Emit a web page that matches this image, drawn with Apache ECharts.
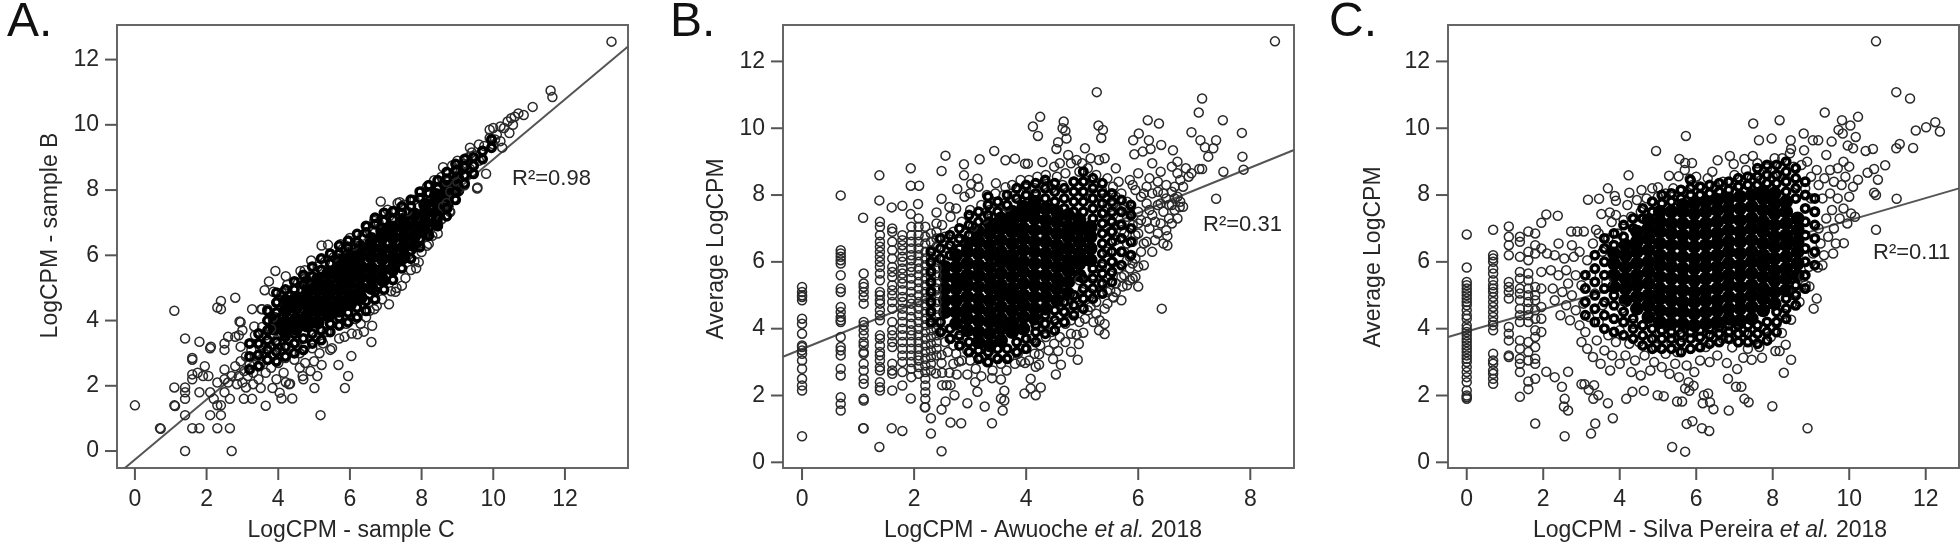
<!DOCTYPE html>
<html>
<head>
<meta charset="utf-8">
<script src="https://cdn.jsdelivr.net/npm/echarts@6/dist/echarts.min.js"></script>
<style>html,body{margin:0;padding:0;background:#fff}#main{width:1960px;height:545px}</style>
</head>
<body>
<div id="main"></div>
<script>
var ticksA = [0, 2, 4, 6, 8, 10, 12];
var ticksB = [0, 2, 4, 6, 8];
var ticksY = [0, 2, 4, 6, 8, 10, 12];

var fitA = [[-0.28, -0.52], [13.76, 12.4]];
var fitB = [[-0.34, 3.16], [8.78, 9.35]];
var fitC = [[-0.49, 3.75], [12.87, 8.2]];

// panel A, single genes
var ringsA = [[13.3,12.55],[11.6,11.05],[11.65,10.85],[11.1,10.55],[10.85,10.3],[10.7,10.35],[10.6,10.25],[10.5,10.2],[10.4,10.1],[10.55,10],[10.3,9.9],[10.2,9.95],[10,9.9],[10.1,9.7],[10.45,9.75],[10.2,9.5],[9.9,9.6],[10,9.4],[10.25,9.3],[9.6,9.4],[9.35,9.3],[9.4,9.15],[9.75,9.35],[9.8,8.5],[9.55,8.05],[9.9,9.85],[10.05,9.55],[9.7,9.2],[9.5,9.05],[9.6,8.9],[9.3,9],[9.2,8.8],[9.45,8.75],[9.1,8.6],[9,8.9],[9.25,8.45],[9.35,8.65],[8.9,8.45],[8.85,8.75],[8.6,8.7],[8.7,8.25],[9,8.25],[8.8,7.95],[8.55,8.4],[8.8,7.33],[8.78,7.35],
[0,1.4],[0.7,0.7],[0.72,0.68],[1.1,1.4],[1.12,1.38],[1.1,1.95],[1.1,4.3],[1.4,0],[1.4,1.1],[1.4,1.6],[1.4,1.8],[1.4,1.95],[1.4,3.45],[1.6,0.7],[1.8,0.7],[1.8,1.8],[1.8,3.35],[1.6,2.2],[1.6,2.35],[1.6,2.8],[1.6,2.85],[1.75,2.4],[1.95,2.6],[1.9,2.3],[2.05,2.3],[2.1,1.8],[2.1,3.15],[2.12,3.2],[2.1,1.1],[2.2,1.6],[2.3,2.1],[2.3,1.4],[2.3,0.7],[2.4,1.4],[2.4,1.1],[2.3,4.4],[2.4,4.35],[2.4,4.6],[2.5,1.8],[2.5,3.1],[2.5,3.3],[2.5,2.5],[2.5,2.2],[2.6,2.1],[2.6,3.5],[2.65,1.6],[2.65,0.7],[2.7,0],[2.8,4.7],[2.8,3.5],[2.9,3.55],[2.95,3.95],[2.95,3.2],[3,3.7],
[2.7,2.3],[2.8,2.6],[2.85,2.05],[2.9,2.3],[2.95,2.75],[3,2.1],[3.05,2.45],[3.1,1.95],[3.1,2.9],[3.15,2.3],[3.2,2.65],[3.25,3.1],[3.3,2.05],[3.3,2.4],[3.35,3.55],[3.4,2.9],[3.45,2.2],[3.5,2.65],[3.5,3.25],[3.55,3.8],[3.55,4.35],[3.6,3],[3.65,2.4],[3.65,3.55],[3.7,2.8],[3.7,4.35],[3.75,3.2],[3.8,2.55],[3.8,3.75],[3.85,4.1],[3.9,2.95],[3.95,3.4],[3.95,2.2],[4,4.6],[4,2.7],[4.05,3.1],[4.1,4.85],[4.15,2.4],[4.2,2.85],[4.25,5.1],[4.3,3.2],[4.3,2.05],[4.4,4.95],[4.45,2.8],[4.5,3.35],[4.55,5.15],[4.6,2.55],[4.6,3],[4.7,2.2],[4.75,2.7],[4.75,3.2],[4.8,5.25],[4.9,2.45],[4.95,3.15],[5,2.75],[5.05,3.5],[5.1,5.65],[5.15,3],[5.25,3.3],[5.3,5.8],[5.35,3.65],[5.45,3.1],[5.5,3.15],[5.55,5.95],[5.7,3.45],[5.8,6.2],[5.85,3.5],[5.9,3.9],[6.05,3.6],[6.1,6.3],[6.15,4.05],[6.3,3.9],[6.35,6.6],[6.45,4.1],[6.5,6.85],[6.55,4.3],[6.75,4.45],[6.8,7],[6.9,4.65],[7.05,7.4],[7.1,7.2],[7.15,4.9],[7.25,7.35],[7.3,5],[7.5,7.55],[7.55,5.3],[7.6,7.35],[7.7,5.55],[7.8,7.7],[7.85,5.6],[8,6.1],[8,7.95],[8.2,6.35],[8.15,8.1],[8.3,6.6],[8.35,8.3],[8.45,6.9],[8.55,7.1],[8.6,7.5],[8.7,7.6],[8.9,7.75],[9.05,8.05],[9.2,8.15],
[6.86,7.65],[7.33,7.6],[7.39,7.63],[6.98,7.28],[6.68,7.05],[6,6.53],[5.21,6.3],[5.39,6.32],[5.74,6.34],[4.92,5.84],[3.92,5.52],[4.21,5.36],[4.62,5.52],[4.74,5.54],[3.74,5.2],[3.62,4.93],[3.86,4.88],[3.53,4.35],[3.27,4.35],[3.33,3.82],[2.92,3.97],[7.09,4.5],[7.45,5.07],[7.27,4.88],[6.68,4.35],[6.62,3.84],[6.6,3.34],[6.39,3.66],[6.21,3.58],[6.04,2.91],[5.68,2.64],[5.95,2.3],[5.86,1.93],[5.18,1.1],[5.21,2.64],[5.09,2.3],[5.01,1.93],[4.68,2.3],[4.39,1.61],[4.33,2.06],[4.09,1.61],[4.04,1.79],[4.21,2.11],[3.84,1.93],[3.51,1.93],[3.65,1.39],[3.27,1.6],[3.04,1.6],[7.92,5.79],[7.8,5.82],[8.15,6.29],[8.45,6.67],[9.56,8.08]];
// the band around the core, rings so close that only white specks remain
var haloAX = [3.2, 3.45, 3.7, 3.95, 4.2, 4.45, 4.7, 4.95, 5.2, 5.45, 5.7, 5.95, 6.2, 6.45, 6.7, 6.95, 7.2, 7.45, 7.7, 7.95, 8.2, 8.45, 8.7, 8.95, 9.2, 9.45, 9.7, 9.95];
var haloAY = [[2.5,2.9,3.3],[2.6,2.95,3.3,3.6],[2.8,3.1,3.4,3.7,4,4.3],[2.75,3.05,3.35,4.25,4.55,4.85],[2.9,3.2,3.5,4.65,4.95],[3,3.3,3.6,4.95,5.2],[3.1,3.45,5.1,5.4],[3.3,3.6,5.35,5.65],[3.4,3.7,5.55,5.9],[3.65,3.9,5.75,6.05],[3.85,4.1,6.05,6.3],[3.95,4.25,6.25,6.45],[4.1,4.4,6.4,6.65],[4.3,4.6,6.7,6.9],[4.65,4.9,6.95,7.15],[4.95,5.2,7.05,7.3],[5.25,5.5,7.1,7.35],[5.6,5.85,7.3,7.5],[5.9,6.15,7.5,7.7],[6.25,6.5,7.75,7.95],[6.6,6.85,7.9,8.15],[6.9,7.15,8.05,8.3],[7.2,7.45,8.35,8.55],[7.7,7.95,8.6,8.8],[8.2,8.45,8.7,8.95],[8.5,8.75,9],[8.95,9.2],[9.3,9.55]];
// panel A, where the rings overlap into solid black
var coreAX = [3.9, 4.2, 4.5, 4.8, 5.1, 5.4, 5.7, 6, 6.3, 6.6, 6.9, 7.2, 7.5, 7.8, 8.1, 8.4, 8.7, 9];
var coreAY = [[3.75,4.05],[3.65,3.95,4.3,4.6],[3.75,4.05,4.4,4.7],[3.85,4.15,4.5,4.8,5.1],[3.95,4.3,4.6,4.95,5.25],[4.15,4.45,4.8,5.1,5.45],[4.3,4.6,4.95,5.3,5.6,5.85],[4.5,4.8,5.15,5.5,5.8,6.05],[4.7,5,5.35,5.65,6,6.25],[5,5.3,5.6,5.95,6.25,6.5],[5.25,5.55,5.9,6.2,6.55,6.75],[5.6,5.9,6.2,6.55,6.85],[5.95,6.25,6.55,6.85,7.1],[6.3,6.6,6.9,7.25],[6.7,7,7.3,7.55],[7,7.3,7.65,7.85],[7.5,7.8,8.1],[8,8.35]];

// panel B, the low counts sit on discrete columns
var colBX = [0, 0.69, 1.1, 1.39, 1.61, 1.79, 1.95, 2.08, 2.2, 2.3, 2.4];
var colBY = [[5.25,5.1,5,4.95,4.85,4.3,4.15,3.85,3.5,3.45,3.35,3.25,3.05,2.8,2.5,2.3,2.15,0.78],
[6.35,6.25,6.15,6.05,5.95,5.6,5.2,5.1,4.65,4.5,4.35,4.25,4.2,3.75,3.45,3.35,3.2,2.8,2.6,1.95,1.75,1.55],
[5.65,5.35,5.25,5.1,4.95,4.75,4.2,4.1,3.95,3.8,3.6,3.5,3.3,3.25,2.95,2.75,2.5,2.35,1.9,1.85,1.02],
[7.2,7.05,6.8,6.6,6.45,6.3,6.15,6,5.85,5.65,5.45,5.1,5,4.85,4.75,4.55,4.4,4.25,3.8,3.7,3.5,3.3,3.2,3.05,2.85,2.75,2.4,2.25,2.15],
[7,6.9,6.6,6.35,6.1,5.85,5.7,5.55,5.3,5.15,5,4.8,4.6,4.2,3.95,3.8,3.6,3.45,2.95,2.75,2.65,2.15],
[6.8,6.65,6.5,6.35,6.15,6,5.8,5.65,5.5,5.35,5.15,4.95,4.8,4.6,4.4,4.2,4,3.8,3.6,3.4,3.2,3,2.7,2.3],
[7.05,6.8,6.6,6.4,6.2,6.05,5.85,5.7,5.5,5.3,5.1,4.9,4.75,4.55,4.35,4.15,3.95,3.8,3.6,3.4,3.2,3,2.8,2.55],
[7.3,7.05,6.8,6.6,6.4,6.2,6,5.8,5.6,5.4,5.2,5,4.8,4.6,4.4,4.2,4,3.8,3.6,3.4,3.2,3.05,2.85,2.65],
[7.05,6.75,6.55,6.3,6.1,5.9,5.7,5.5,5.3,5.1,4.9,4.7,4.5,4.3,4.1,3.9,3.7,3.5,3.3,3.1,2.9,2.7,2.5,2.3,2.1,1.9,1.65],
[6.85,6.6,6.35,6.15,5.95,5.75,5.55,5.35,5.15,4.95,4.75,4.55,4.35,4.15,3.95,3.75,3.55,3.35,3.15,2.95,2.75],
[7.15,6.9,6.7,6.45,6.2,6,5.8,5.6,5.4,5.2,5,4.8,4.6,4.4,4.2,4,3.8,3.6,3.4,3.2]];
var ringsB = [[8.44,12.6],[5.26,11.08],[7.14,10.89],[7.08,10.47],[7.51,10.24],[6.17,10.24],[6.37,10.14],[4.25,10.34],[4.12,10.05],[4.21,9.77],[4.67,10.2],[4.65,10],[4.7,9.92],[4.72,9.69],[5.29,10.08],[5.37,9.95],[5.34,9.71],[6.95,9.88],[6.01,9.84],[7.85,9.86],[5.91,9.64],[6.19,9.64],[7.11,9.64],[7.39,9.64],[6.41,9.5],[7.19,9.43],[7.34,9.4],[5.05,9.4],[4.57,9.58],[4.54,9.38],[6.62,9.34],[6.22,9.38],[6.08,9.3],[5.93,9.22],[7.86,9.15],[7.25,9.15],[3.43,9.32],[3.17,9.07],[2.56,9.18],[3.63,9.04],[3.8,9.09],[3.98,8.94],[4.03,8.94],[4.29,8.99],[2.89,8.92],[1.94,8.8],[2.49,8.72],[2.89,8.59],[1.38,8.59],[7.09,8.78],[7.14,8.78],[7.52,8.7],[7.88,8.76],[3.13,8.49],[3.02,8.33],[3.46,8.35],[3.63,8.23],[1.94,8.28],[2.09,8.28],[2.77,8.18],[0.69,7.99],[1.38,7.84],[2.49,7.89],[1.6,7.63],[1.79,7.68],[2.07,7.73],[1.94,7.43],[2.4,7.48],[2.63,7.64],[1.09,7.32],[7.39,7.89],[6.74,7.64],
[6.42,4.6],[6.52,6.49],[6.52,6.77],[6,5.26],[5.85,5.45],[5.72,5.26],[5.56,4.93],[5.4,3.84],[5.4,4.14],[5.31,4.25],[5.02,3.88],[4.9,3.82],[4.94,3.54],[4.92,3.07],[4.8,3.31],[4.62,2.92],[4.53,2.63],[4.57,3.33],[4.48,3.09],[4.23,3.23],[4.23,2.92],[4.26,2.24],[4.17,2.01],[4.08,2.21],[3.97,2.06],[4.08,2.5],[3.91,3.02],[3.98,2.97],[4.17,2.86],[3.61,2.14],[3.55,1.91],[3.61,1.85],[3.58,1.55],[3.55,2.48],[3.39,1.17],[3.26,1.67],[2.95,1.77],[2.84,1.17],[2.65,1.19],[2.3,0.86],[2.3,1.32],[2.49,0.33],[2.49,1.58],[2.19,1.65],[1.38,0.46],[1.09,1.02],[1.6,1.02],[1.79,0.94],[1.94,1.91],[3.13,2.11],[3.09,2.4],[3.2,2.58],[3.39,2.52],[2.56,1.82],[2.72,2.01],[2.58,2.31],[2.65,2.31],[2.5,2.31],[2.76,2.63],[2.63,2.68],[2.5,2.68],[2.39,2.66],[2.95,2.63],[2.8,3.02],[2.49,2.97],[2.49,3.21],
[2.5,7.1],[2.55,6.75],[2.6,6.4],[2.65,7.35],[2.7,6.9],[2.75,7.6],[2.8,6.6],[2.85,7.2],[2.9,7.95],[2.9,6.85],[3,7.55],[3,8.05],[3.05,7.05],[3.15,8.25],[3.2,7.7],[3.25,7.3],[3.3,8],[3.35,7.55],[3.45,8.05],[3.5,7.75],[3.6,8],[3.65,7.65],[3.75,8.3],[3.8,8],[3.9,8.45],[4,8.2],[4.05,8.45],[4.15,8.2],[4.2,8.55],[4.3,8.3],[4.35,8.6],[4.45,8.2],[4.5,8.85],[4.55,8.55],[4.6,8.95],[4.65,8.3],[4.7,8.65],[4.75,9.2],[4.8,8.95],[4.85,8.4],[4.9,9.05],[4.95,8.7],[5,8.1],[5,8.95],[5.05,8.45],[5.1,8.8],[5.15,7.9],[5.15,9.1],[5.2,8.3],[5.25,8.6],[5.3,9.05],[5.3,7.75],[5.35,8.15],[5.4,9.1],[5.4,7.5],[5.45,7.95],[5.45,8.5],[5.5,6.9],[5.5,7.25],[5.55,7.7],[5.55,8.25],[5.6,8.8],[5.6,6.65],[5.65,7.1],[5.65,7.55],[5.7,8.05],[5.7,6.3],[5.75,6.85],[5.8,7.35],[5.8,7.8],[5.85,8.45],[5.85,6.15],[5.9,6.6],[5.9,7.1],[5.95,8.15],[6,7.5],[6,6.85],[6,8.65],[6.05,6.3],[6.05,7.25],[6.1,8.05],[6.1,5.9],[6.15,7.75],[6.15,6.6],[6.2,7],[6.2,8.5],[6.25,8.95],[6.25,7.4],[6.3,6.65],[6.35,8.1],[6.35,7.7],[6.4,7.15],[6.4,8.7],[6.45,7.5],[6.45,6.55],[6.5,8.3],[6.5,7.9],[6.55,7.3],[6.6,8.85],[6.6,7.7],[6.65,8.25],[6.65,7.55],[6.7,9],[6.7,7.95],[6.75,8.45],[6.8,7.65],[6.85,8.8],[6.9,8.55],[6.95,8.65],
[5.1,4.55],[5.15,5.05],[5.2,5.6],[5.25,4.8],[5.3,5.35],[5.3,3.95],[5.35,5.85],[5.4,4.6],[5.45,5.1],[5.45,6.3],[5.5,5.6],[5.55,4.95],[5.55,6],[5.6,5.35],[5.65,5.8],[5.7,4.85],[5.75,5.6],[5.75,6.3],[5.8,6.55],[5.85,5.8],[5.9,5.5],[5.95,6.1],[6,5.85],[5.05,4.3],[5,5.1],[5,4.65],[4.95,4.2],[4.95,5.45],[4.9,4.95],[4.85,4.5],[4.8,3.85],[4.8,4.25],[4.75,4.75],[4.7,3.6],[4.7,4.15],[4.65,4.55],[4.6,3.75],[4.55,4.15],[4.5,3.55],[4.45,3.9],[4.4,3.35],[4.35,3.75],[4.3,4.15],[4.25,3.5],[4.15,3.25],[4.1,3.7],[4.05,3.05],[3.95,3.4],[3.85,3.25],[3.8,2.95],[3.7,3.15],[3.65,2.75],[3.55,2.95],[3.45,3.15],[3.4,2.75],[3.3,3],[3.2,3.15],[3.1,2.8],[3,3.05],[2.95,3.35],[2.85,3.05],[2.75,3.25],[2.7,2.95],[2.6,3.3],[2.55,3.6],[2.65,3.7],[2.5,3.95],[2.7,3.5],[2.8,3.7],
[5.55,7.4],[5.6,7.95],[5.65,8.4],[5.7,6.95],[5.75,7.65],[5.8,6.05],[5.85,7.55],[5.9,8.3],[5.95,6.8],[6,7.15],[6.05,7.95],[6.1,6.55],[6.15,7.2],[6.15,8.25],[6.2,7.55],[6.25,6.3],[6.25,8.05],[6.3,7.2],[6.35,6.85],[6.35,8.4],[6.4,7.75],[6.45,8.05],[6.5,6.95],[6.55,7.7],[6.6,7.15],[6.6,8.1],[6.65,7.9],[6.7,8.65],[6.7,7.3],[6.75,7.8],[6.8,8.25],[5.95,5.55],[5.9,5.95],[5.8,5.3],[5.7,5.55],[5.6,5.1],[5.5,5.15],[5.45,4.75],[5.35,5.1],[5.25,4.45],[5.2,4.2],[5.15,4.65]];
var haloBX = [2.3, 2.47, 2.64, 2.81, 2.98, 3.15, 3.32, 3.49, 3.66, 3.83, 4, 4.17, 4.34, 4.51, 4.68, 4.85, 5.02, 5.19, 5.36, 5.53, 5.7, 5.87];
var haloBY = [[4.2,4.5,4.8,5.1,5.4,5.7,6,6.3],[3.9,4.2,6.1,6.4,6.7],[3.7,4,6.2,6.5,6.8],[3.5,3.8,6.4,6.7,7],[3.3,3.6,6.8,7.1,7.4],[3.1,3.35,7.2,7.5],[3,3.3,7.4,7.7,7.95],[3.1,3.4,7.5,7.8],[3.1,3.4,7.7,8],[3.3,3.6,7.9,8.2],[3.4,3.7,8,8.3],[3.6,3.9,4.1,8.05,8.35],[3.85,4.15,4.4,7.9,8.2,8.45],[3.95,4.25,4.55,7.8,8.1,8.35],[4.2,4.5,4.8,7.6,7.9,8.2],[4.4,4.7,5,7.5,7.8,8.1,8.4],[4.6,4.9,5.2,5.5,7.5,7.8,8.1,8.4,8.7],[4.9,5.2,5.5,5.8,7.3,7.6,7.9,8.2,8.5],[5.05,5.35,5.65,5.95,6.25,6.55,6.85,7.15,7.45,7.75,8.05,8.35],[5.4,5.7,6,6.3,6.6,6.9,7.2,7.5,7.8,8.05],[5.9,6.3,6.7,7.1,7.5,7.85],[6.2,6.6,7,7.4,7.7]];
var coreBX = [2.55, 2.75, 2.95, 3.15, 3.35, 3.55, 3.75, 3.95, 4.15, 4.35, 4.55, 4.75, 4.95, 5.15];
var coreBY = [[4.5,4.85,5.2,5.55,5.85],[4.15,4.5,4.85,5.2,5.5,5.85,6.2],[3.95,4.3,4.6,4.95,5.3,5.6,5.95,6.3,6.55],[3.6,3.9,4.25,4.6,4.9,5.25,5.6,5.9,6.25,6.6,6.9],[3.5,3.85,4.2,4.5,4.85,5.2,5.5,5.85,6.2,6.5,6.85,7.15],[3.65,4,4.3,4.65,5,5.3,5.65,6,6.3,6.65,7,7.3],[3.9,4.2,4.55,4.9,5.2,5.55,5.9,6.2,6.55,6.9,7.2,7.5],[4,4.35,4.7,5,5.35,5.7,6,6.35,6.7,7,7.35,7.65],[4.3,4.6,4.95,5.3,5.6,5.95,6.3,6.6,6.95,7.3,7.55,7.8],[4.6,4.95,5.25,5.6,5.95,6.25,6.6,6.95,7.25,7.6],[4.85,5.2,5.5,5.85,6.2,6.5,6.85,7.2,7.5],[5.05,5.4,5.75,6.05,6.4,6.75,7.05,7.4],[5.6,5.95,6.25,6.6,6.95,7.25],[6.05,6.4,6.75,7.05]];

// panel C, same idea
var colCX = [0, 0.69, 1.1, 1.39, 1.61, 1.79, 1.95];
var colCY = [[6.82,5.83,5.4,5.3,5.2,5.1,5,4.9,4.8,4.7,4.55,4.4,4.3,4.1,4,3.9,3.8,3.7,3.6,3.5,3.4,3.3,3.2,3.1,3,2.85,2.7,2.55,2.4,2.15,2,1.95,1.9],
[6.96,6.2,6.1,6,5.8,5.65,5.45,5.3,5.2,5.1,4.95,4.8,4.65,4.5,4.35,4.2,4.1,3.95,3.25,3.05,2.95,2.75,2.65,2.5,2.35],
[7.06,6.75,6.5,6.2,5.4,5.25,5.1,4.9,4.05,3.85,3.65,3.2,3.15],
[6.75,6.6,6.15,5.7,5.5,5.2,5.05,4.85,4.6,4.4,4.2,3.65,3.4,3.1,2.95,2.7,1.96],
[6.91,6.3,6.05,5.65,5.45,5.2,5,4.8,4.6,4.4,4.2,3.6,3.3,3.05,2.42,2.19],
[6.85,6.5,6.25,5.25,5,4.85,4.55,4.3,3.95,3.75,3.45,3.1,2.95,2.5,1.16],
[7.17,6.4,5.7,5.2,4.65,4.3,3.9]];
var ringsC = [[10.7,12.6],[11.23,11.08],[11.59,10.89],[9.36,10.47],[10.23,10.34],[9.81,10.24],[8.18,10.24],[7.49,10.14],[10.03,10.08],[12.25,10.18],[12.01,10.03],[11.74,9.93],[12.37,9.9],[9.72,9.95],[9.83,9.84],[5.73,9.77],[8.81,9.84],[10.17,9.74],[7.64,9.64],[7.97,9.69],[8.47,9.64],[9.05,9.64],[9.19,9.64],[9.54,9.6],[11.32,9.53],[11.23,9.4],[11.67,9.41],[10.62,9.38],[10.43,9.32],[10.1,9.4],[9.96,9.48],[4.95,9.32],[6.88,9.17],[7.48,9.17],[7.26,9.08],[5.56,9.08],[5.71,8.96],[5.89,8.96],[6.56,9.04],[6.98,8.93],[8.82,9.34],[8.48,9.38],[10.94,8.89],[10.65,8.78],[10.48,8.67],[10.75,8.46],[10.23,8.46],[4.23,8.59],[5.29,8.58],[5.54,8.56],[5.83,8.49],[6.42,8.7],[3.69,8.2],[5,8.23],[4.57,8.15],[4.25,8.07],[3.87,7.97],[3.9,7.83],[3.17,7.86],[3.46,7.89],[10.65,8.07],[10.7,8],[11.24,7.89],[2.08,7.42],[2.38,7.38],[3.52,7.43],[3.74,7.48],[3.79,7.19],[10.7,6.96],[2.73,6.91],[2.89,6.91],[3.06,6.91],[3.38,6.96],[9.86,6.56],[9.58,6.25],[9.34,6.2],[9.18,5.83],[9.15,4.9],[9.07,4.6],[8.96,5.26],[8.86,5.31],[8.48,4.27],[8.24,3.87],[8.34,3.52],[8.48,3.07],[8.29,2.68],[8.18,3.33],[8.07,3.33],[7.72,3.13],[7.45,3.07],[7.23,3.13],[6.94,3.44],[6.8,2.97],[7.07,2.79],[6.83,2.5],[7.04,2.26],[7.18,2.26],[7.26,1.9],[7.37,1.8],[7.99,1.68],[6.85,1.55],[8.91,1.02],[6.31,2.06],[6.2,2.01],[6.36,1.8],[6.17,1.77],[6.45,1.59],[5.82,2.14],[5.71,2.21],[5.93,2.29],[5.63,1.82],[5.5,1.82],[4.99,2.01],[5.15,1.98],[4.63,2.14],[4.33,2.11],[4.17,1.9],[5.9,1.23],[5.75,1.15],[6.15,1.02],[6.34,0.94],[5.37,0.46],[5.71,0.32],[3.82,1.32],[3.36,1.16],[3.25,0.86],[2.56,0.78],[2.65,1.55],[2.54,1.67],[2.56,1.9],[3.69,1.77],[3.44,2.01],[3.31,1.9],[3.19,2.17],[3.33,2.31],[3,2.34],[3.08,2.34],[2.49,2.26],[2.08,2.71],[2.3,2.55],[2.65,2.71],
[2.1,6.25],[2.2,5.75],[2.25,5.2],[2.3,4.85],[2.3,6.2],[2.4,5.6],[2.4,6.55],[2.45,4.4],[2.5,5.1],[2.55,6.1],[2.6,5.75],[2.6,4.7],[2.65,5.35],[2.7,4.25],[2.75,6.5],[2.75,5],[2.8,6.15],[2.85,4.55],[2.85,5.6],[2.95,6.3],[2.95,4.1],[3,3.6],[3,5.3],[3.05,4.75],[3.1,3.9],[3.15,6.05],[3.15,3.4],[3.2,4.35],[3.25,5.6],[3.3,6.55],[3.3,3.15],[3.35,5.05],[3.4,3.65],[3.45,6.85],[3.45,4.2],[3.5,2.95],[3.55,6.3],[3.55,4.7],[3.6,3.35],[3.65,5.4],[3.7,3.8],[3.7,6.7],[3.75,2.75],[3.8,3.2],[3.85,4.3],[3.9,7.4],[3.9,3.6],[3.95,6.85],[4,2.95],[4,3.95],[4.05,4.6],[4.1,7.25],[4.15,3.2],[4.2,7.7],[4.25,3.55],[4.3,2.7],[4.3,7.35],[4.35,4.15],[4.4,3.05],[4.45,7.85],[4.5,3.6],[4.55,2.6],[4.55,7.5],[4.6,4.1],[4.65,3.2],[4.7,7.9],[4.75,3.65],[4.8,2.75],[4.85,8.2],[4.9,3],[4.95,3.45],[5,7.95],[5.05,3.9],[5.1,2.85],[5.2,8.05],[5.2,3.25],[5.3,2.65],[5.35,3.6],[5.4,8.2],[5.45,2.95],[5.5,3.3],[5.55,2.55],[5.6,8.15],[5.65,3.75],[5.7,8.75],[5.75,2.9],[5.8,2.4],[5.85,3.4],[5.9,8.3],[5.95,2.7],[6,8.55],[6.05,3.75],[6.1,3.05],[6.15,8.2],[6.25,3.45],[6.3,8.5],[6.35,3],[6.45,3.75],[6.5,8.25],[6.55,3.2],[6.7,8.4],[6.7,3.7],[6.85,8.15],[6.9,3.95],[7,8.6],[7.1,3.6],[7.15,8.3],[7.25,3.9],[7.3,8.75],[7.35,3.4],[7.45,8.5],[7.5,3.7],[7.6,8.95],[7.65,3.45],[7.7,8.45],[7.8,4],[7.85,8.8],[7.95,3.75],[8,8.55],[8.05,9.1],[8.1,4.15],[8.2,8.85],[8.25,9.1],[8.3,4.45],[8.35,8.45],[8.45,9.25],[8.5,4.75],[8.55,8.85],[8.6,5.1],[8.65,8.3],[8.7,4.8],[8.75,8.9],[8.8,5.55],[8.85,8.2],[8.9,9],[8.95,5.85],[9,8.55],[9,7.9],[9.05,6.25],[9.1,7.5],[9.15,8.75],[9.2,8.3],[9.2,7],[9.25,6.55],[9.3,7.9],[9.3,5.9],[9.35,8.5],[9.4,7.3],[9.4,9.2],[9.45,6.75],[9.5,8.05],[9.5,8.75],[9.55,7.55],[9.6,8.4],[9.6,7],[9.65,6.55],[9.7,7.9],[9.7,8.8],[9.75,7.3],[9.8,8.3],[9.85,7.6],[9.85,9],[9.9,8.55],[9.95,7.15],[10,7.95],[10,8.85],[10.05,7.45],[10.1,8.25],[10.15,7.35]];
var haloCX = [3.1, 3.35, 3.6, 3.85, 4.1, 4.35, 4.6, 4.85, 5.1, 5.35, 5.6, 5.85, 6.1, 6.35, 6.6, 6.85, 7.1, 7.35, 7.6, 7.85, 8.1, 8.35, 8.6, 8.85, 9.1];
var haloCY = [[4.4,4.8,5.2,5.6],[4.2,4.6,5,5.4,5.8,6.2],[4,4.4,4.8,5.2,5.6,6,6.4,6.7],[3.9,4.3,4.7,5,6.5,6.85],[3.8,4.2,4.5,6.75,7.1],[3.7,4,4.3,7,7.3],[3.5,3.8,4.1,7.3,7.6],[3.4,3.7,4,7.5,7.8],[3.4,3.7,3.95,7.75,8],[3.4,3.7,3.9,7.8,8.05],[3.3,3.6,3.85,7.9,8.15],[3.4,3.7,3.9,8,8.2,8.45],[3.45,3.75,3.95,8,8.25],[3.55,3.8,4,8.05,8.3],[3.6,3.85,4.05,8.1,8.35],[3.7,3.9,4.1,8.15,8.4],[3.6,3.85,4.1,8.25,8.5],[3.6,3.85,4.1,8.3,8.55],[3.55,3.85,4.1,8.3,8.55,8.8],[3.65,3.9,4.2,8.35,8.6,8.9],[3.9,4.2,4.5,8.35,8.6,8.9],[4.3,4.6,4.9,8.1,8.4,8.7,9],[4.7,5,5.3,7.9,8.2,8.5,8.8],[5.2,5.6,6,6.4,6.8,7.2,7.6,8,8.4],[5.9,6.3,6.7,7.1,7.5,7.9]];
var coreCX = [3.85, 4.15, 4.45, 4.75, 5.05, 5.35, 5.65, 5.95, 6.25, 6.55, 6.85, 7.15, 7.45, 7.75, 8.05, 8.35, 8.65];
var coreCY = [[5.25,5.6,5.95,6.25],[4.85,5.2,5.5,5.85,6.2,6.5],[4.6,4.95,5.3,5.6,5.95,6.3,6.6,6.9],[4.35,4.7,5,5.35,5.7,6,6.35,6.7,7,7.25],[4.2,4.55,4.9,5.2,5.55,5.9,6.2,6.55,6.9,7.2,7.5],[4.15,4.5,4.85,5.15,5.5,5.85,6.15,6.5,6.85,7.15,7.5],[4.15,4.5,4.8,5.15,5.5,5.8,6.15,6.5,6.8,7.15,7.5,7.7],[4.1,4.45,4.8,5.1,5.45,5.8,6.1,6.45,6.8,7.1,7.45,7.75],[4.15,4.5,4.85,5.15,5.5,5.85,6.15,6.5,6.85,7.15,7.5,7.8],[4.2,4.55,4.85,5.2,5.55,5.85,6.2,6.55,6.85,7.2,7.55,7.85],[4.3,4.6,4.95,5.3,5.6,5.95,6.3,6.6,6.95,7.3,7.6,7.9],[4.25,4.6,4.9,5.25,5.6,5.9,6.25,6.6,6.9,7.25,7.6,7.95],[4.3,4.65,5,5.3,5.65,6,6.3,6.65,7,7.3,7.65,8],[4.55,4.9,5.2,5.55,5.9,6.2,6.55,6.9,7.2,7.55,7.9,8.1],[4.75,5.1,5.45,5.75,6.1,6.45,6.75,7.1,7.45,7.75,8.05],[5.15,5.5,5.8,6.15,6.5,6.8,7.15,7.5,7.8],[5.6,5.95,6.3,6.6,6.95,7.3]];

var labelsABC = ['A.', 'B.', 'C.'];
var xTitles = ['LogCPM - sample C', '{n|LogCPM - Awuoche }{i|et al.}{n| 2018}', '{n|LogCPM - Silva Pereira }{i|et al.}{n| 2018}'];
var yTitles = ['LogCPM - sample B', 'Average LogCPM', 'Average LogCPM'];
var r2Labels = ['R\u00b2=0.98', 'R\u00b2=0.31', 'R\u00b2=0.11'];

function toPairs(xs, ys) {
    var out = [];
    xs.forEach(function (x, i) {
        ys[i].forEach(function (y) { out.push([x, y]); });
    });
    return out;
}

function colsAnd(xs, ys, rest) {
    return toPairs(xs, ys).concat(rest);
}

var font = '"Liberation Sans", Arial, sans-serif';
var ink = '#262626';

var panels = [
    {grid: {left: 117, width: 511, top: 25, height: 443}, x: [-0.5, 13.76], y: [-0.52, 13.06], xt: ticksA, fit: fitA, rings: ringsA, halo: toPairs(haloAX, haloAY), core: toPairs(coreAX, coreAY), xPad: [0, 43, 0, 0], yPad: [0, 0, 0, 22], yGap: 55, lab: [2, -6], r2: [507, 163]},
    {grid: {left: 783, width: 511, top: 25, height: 443}, x: [-0.34, 8.78], y: [-0.17, 13.09], xt: ticksB, fit: fitB, rings: colsAnd(colBX, colBY, ringsB), halo: toPairs(haloBX, haloBY), core: toPairs(coreBX, coreBY), xPad: [0, 0, 0, 9], yPad: [0, 5, 0, 0], yGap: 55, lab: [665, -6], r2: [1198, 209]},
    {grid: {left: 1448, width: 511, top: 25, height: 443}, x: [-0.49, 12.87], y: [-0.17, 13.09], xt: ticksA, fit: fitC, rings: colsAnd(colCX, colCY, ringsC), halo: toPairs(haloCX, haloCY), core: toPairs(coreCX, coreCY), xPad: [0, 0, 0, 13], yPad: [0, 21, 0, 0], yGap: 63, lab: [1324, -6], r2: [1868, 237]}
];

var option = {
    animation: false,
    backgroundColor: '#fff',
    textStyle: {fontFamily: font},
    grid: [], xAxis: [], yAxis: [], series: [], title: []
};

panels.forEach(function (p, i) {
    option.grid.push({left: p.grid.left, width: p.grid.width, top: p.grid.top, height: p.grid.height, show: true, borderColor: '#666', borderWidth: 2, outerBoundsMode: 'none'});
    option.xAxis.push({
        gridIndex: i, type: 'value', min: p.x[0], max: p.x[1], splitLine: {show: false},
        axisLine: {show: false, onZero: false}, axisTick: {show: false},
        axisLabel: {show: true, customValues: p.xt, margin: 20, fontSize: 23, color: ink, fontFamily: font},
        name: xTitles[i], nameLocation: 'middle', nameGap: 51,
        nameTextStyle: {fontSize: 23, color: ink, fontFamily: font, padding: p.xPad, rich: {
            n: {fontSize: 23, color: ink, fontFamily: font},
            i: {fontSize: 23, color: ink, fontFamily: font, fontStyle: 'italic'}
        }}
    });
    option.yAxis.push({
        gridIndex: i, type: 'value', min: p.y[0], max: p.y[1], splitLine: {show: false},
        axisLine: {show: false, onZero: false}, axisTick: {show: false},
        axisLabel: {show: true, customValues: ticksY, margin: 18, fontSize: 23, color: ink, fontFamily: font},
        name: yTitles[i], nameLocation: 'middle', nameGap: p.yGap,
        nameTextStyle: {fontSize: 23, color: ink, fontFamily: font, padding: p.yPad}
    });
    option.series.push({
        type: 'line', xAxisIndex: i, yAxisIndex: i, data: p.fit, symbol: 'none', silent: true, z: 1,
        lineStyle: {color: '#555', width: 2}
    });
    option.series.push({
        type: 'scatter', xAxisIndex: i, yAxisIndex: i, data: p.rings, symbolSize: 9, silent: true, z: 3,
        itemStyle: {color: 'transparent', borderColor: '#2a2a2a', borderWidth: 1.5, opacity: 1}
    });
    option.series.push({
        type: 'scatter', xAxisIndex: i, yAxisIndex: i, data: p.halo, symbolSize: 7.5, silent: true, z: 3,
        itemStyle: {color: 'transparent', borderColor: '#000', borderWidth: 3.5, opacity: 1}
    });
    option.series.push({
        type: 'scatter', xAxisIndex: i, yAxisIndex: i, data: p.core, symbolSize: 14, silent: true, z: 2,
        itemStyle: {color: '#000', opacity: 1}
    });
    option.title.push({text: labelsABC[i], left: p.lab[0], top: p.lab[1], textStyle: {fontSize: 48, fontWeight: 'normal', color: '#111', fontFamily: font}});
    option.title.push({text: r2Labels[i], left: p.r2[0], top: p.r2[1], textStyle: {fontSize: 22, fontWeight: 'normal', color: ink, fontFamily: font}});
});

var chart = echarts.init(document.getElementById('main'));
chart.setOption(option);

// tick marks on their own layer, positions asked from the axes
var tickMarks = [];
function tickLine(x1, y1, x2, y2) {
    tickMarks.push({type: 'line', silent: true, z: 100, zlevel: 1, shape: {x1: x1, y1: y1, x2: x2, y2: y2}, style: {stroke: '#555', lineWidth: 2}});
}
panels.forEach(function (p, i) {
    p.xt.forEach(function (t) {
        var pt = chart.convertToPixel({gridIndex: i}, [t, p.y[0]]);
        tickLine(pt[0], pt[1], pt[0], pt[1] + 12);
    });
    ticksY.forEach(function (t) {
        var pt = chart.convertToPixel({gridIndex: i}, [p.x[0], t]);
        tickLine(pt[0], pt[1], pt[0] - 12, pt[1]);
    });
});
chart.setOption({graphic: tickMarks});
</script>
</body>
</html>
